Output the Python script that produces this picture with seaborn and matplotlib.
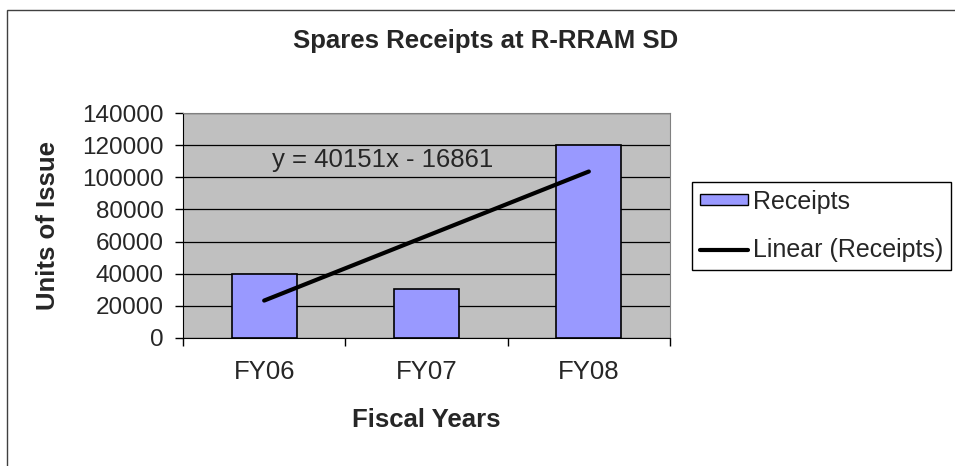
import numpy as np
import pandas as pd
import matplotlib
matplotlib.use("Agg")
import matplotlib.pyplot as plt
import seaborn as sns
from matplotlib.patches import Patch, Rectangle
from matplotlib.lines import Line2D

years = ["FY06", "FY07", "FY08"]
receipts = [39850, 30321, 120152]
y_ticks = [0, 20000, 40000, 60000, 80000, 100000, 120000, 140000]

sns.set_style("white")
plt.rcParams["font.family"] = ["Liberation Sans", "DejaVu Sans"]

df = pd.DataFrame({"year": years, "receipts": receipts})

W, H = 955, 466
fig = plt.figure(figsize=(W / 100, H / 100), dpi=100)
ax = fig.add_axes([183 / W, 1 - 338 / H, (670 - 183) / W, (338 - 113) / H])

sns.barplot(data=df, x="year", y="receipts", color="#9999FF", edgecolor="black",
            linewidth=1.2, width=0.4, saturation=1, ax=ax)

# linear trend, Excel style (x = 1, 2, 3)
xs = np.arange(1, len(receipts) + 1)
slope, intercept = np.polyfit(xs, receipts, 1)
ax.plot(xs - 1, slope * xs + intercept, color="black", linewidth=3, zorder=4,
        solid_capstyle="round")
sign = "-" if intercept < 0 else "+"
ax.text(0.05, 110700, f"y = {slope:.0f}x {sign} {abs(intercept):.0f}", fontsize=18.5,
        va="center", ha="left")

ax.set_facecolor("#C0C0C0")
ax.set_ylim(0, 140000)
ax.set_xlim(-0.5, 2.5)
ax.set_yticks(y_ticks)
ax.set_yticklabels([str(v) for v in y_ticks], fontsize=17.5)
ax.yaxis.grid(True, color="black", linewidth=0.9)
ax.set_axisbelow(True)
ax.tick_params(axis="y", direction="out", length=6, width=1, color="black", left=True, pad=8)
ax.tick_params(axis="x", which="major", length=0, labelsize=18.5, pad=16)
ax.set_xticks([-0.5, 0.5, 1.5, 2.5], minor=True)
ax.tick_params(axis="x", which="minor", direction="out", length=6, width=1, color="black", bottom=True)
for side in ["top", "right"]:
    ax.spines[side].set_color("#808080")
for side in ["left", "bottom"]:
    ax.spines[side].set_color("black")

ax.set_xlabel("Fiscal Years", fontsize=18.5, fontweight="bold")
ax.xaxis.set_label_coords(0.5, (338 - 408) / 225)
ax.set_ylabel("Units of Issue", fontsize=18.5, fontweight="bold")
ax.yaxis.set_label_coords((60 - 183) / 487, 0.5)
fig.text(486 / W, 1 - 41 / H, "Spares Receipts at R-RRAM SD", fontsize=18.5,
         fontweight="bold", ha="center", va="center")

handles = [Patch(facecolor="#9999FF", edgecolor="black", label="Receipts"),
           Line2D([0], [0], color="black", linewidth=3, label="Linear (Receipts)")]
leg = fig.legend(handles=handles, loc="upper left", bbox_to_anchor=(692 / W, 1 - 182 / H),
                 fontsize=18, frameon=True, fancybox=False, framealpha=1,
                 handlelength=1.95, handleheight=0.3, handletextpad=0.2,
                 borderpad=0.3, labelspacing=1.0, borderaxespad=0)
leg.get_frame().set_edgecolor("black")
leg.get_frame().set_linewidth(1)

fig.patches.append(Rectangle((7 / W, -0.01), 1.0, 1 - 10 / H + 0.01, transform=fig.transFigure,
                             fill=False, edgecolor="#404040", linewidth=1))

fig.savefig("out.png", dpi=100)
